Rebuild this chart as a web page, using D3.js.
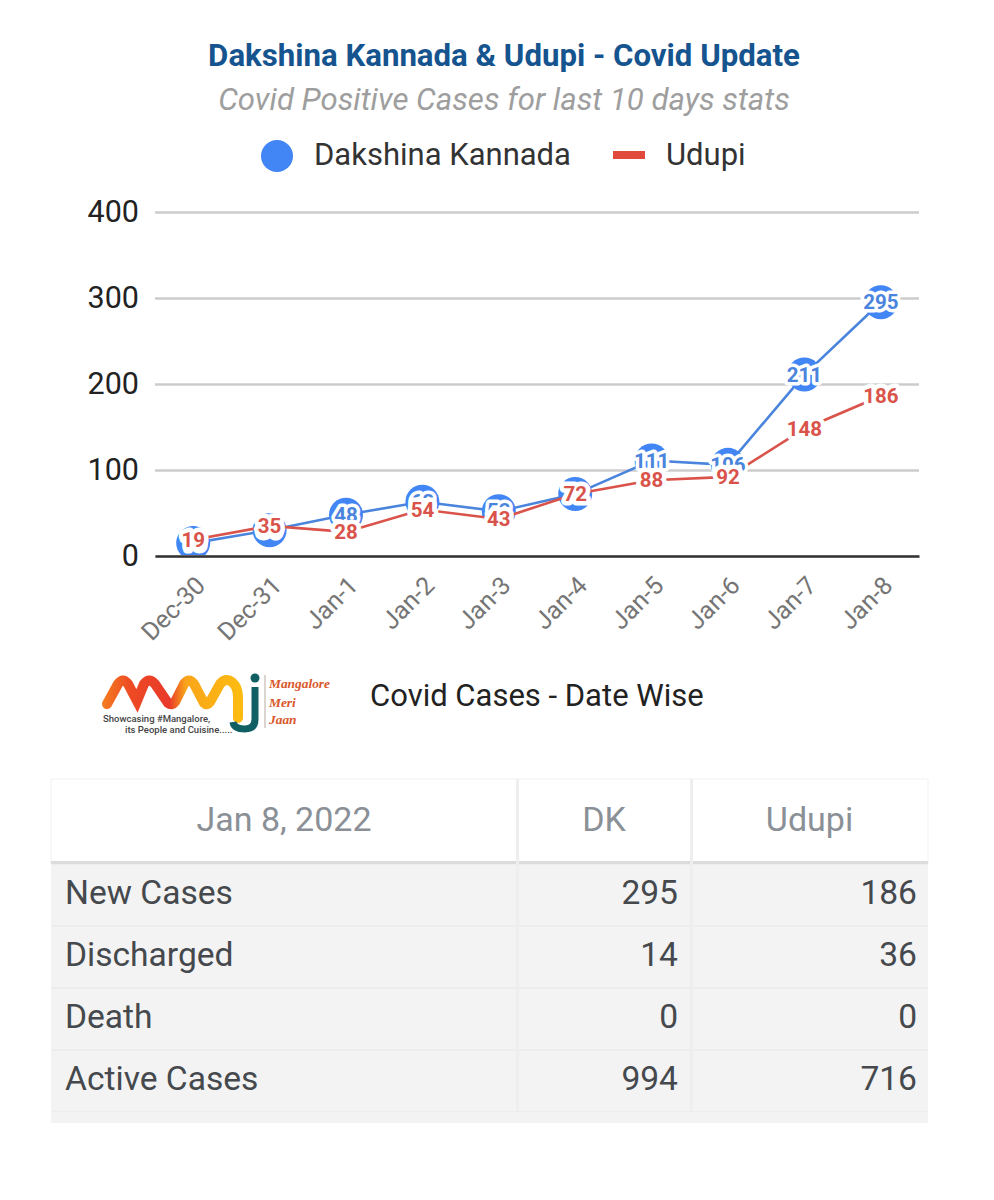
<!DOCTYPE html>
<html><head><meta charset="utf-8">
<script src="https://cdn.jsdelivr.net/npm/d3@7"></script>
<style>html,body{margin:0;padding:0;background:#fff}svg{display:block}text{font-family:Roboto,sans-serif}</style>
</head><body><div id="c"></div>
<script>
const dates=["Dec-30","Dec-31","Jan-1","Jan-2","Jan-3","Jan-4","Jan-5","Jan-6","Jan-7","Jan-8"];
const dk=[15,30,48,63,52,72,111,106,211,295];
const udupi=[19,35,28,54,43,72,88,92,148,186];
const yTicks=[0,100,200,300,400];
const tableHead=["Jan 8, 2022","DK","Udupi"];
const rowNames=["New Cases","Discharged","Death","Active Cases"];
const dkRow=[295,14,0,994];
const udupiRow=[186,36,0,716];
const BLUE="#4285f4",LBLUE="#4a84dc",RED="#e0493b",LRED="#d9534a";

const svg=d3.select("#c").append("svg").attr("width",994).attr("height",1200);
const x=d3.scalePoint().domain(dates).range([155,919]).padding(0.5);
const y=d3.scaleLinear().domain([0,400]).range([556,212]);

svg.append("text").attr("x",504).attr("y",66).attr("text-anchor","middle").attr("font-size",31.2).attr("font-weight",700).attr("fill","#15548e").text("Dakshina Kannada & Udupi - Covid Update");
svg.append("text").attr("x",504).attr("y",110).attr("text-anchor","middle").attr("font-size",31.2).attr("font-style","italic").attr("fill","#9e9e9e").text("Covid Positive Cases for last 10 days stats");

// legend
svg.append("circle").attr("cx",277).attr("cy",156).attr("r",16).attr("fill",BLUE);
svg.append("text").attr("x",314).attr("y",165).attr("font-size",31).attr("fill","#333").text("Dakshina Kannada");
svg.append("rect").attr("x",613).attr("y",151).attr("width",32).attr("height",8).attr("fill",RED);
svg.append("text").attr("x",666).attr("y",165).attr("font-size",31).attr("fill","#333").text("Udupi");

// axes
const gy=svg.append("g").attr("transform","translate(155,0)").call(d3.axisLeft(y).tickValues(yTicks).tickSize(-764).tickPadding(16));
gy.select(".domain").remove();
gy.selectAll("line").attr("stroke","#cccccc").attr("stroke-width",2.5);
gy.selectAll("text").attr("font-size",30.5).attr("fill","#222").attr("font-family","Roboto,sans-serif").attr("dy","0.3em");
const gx=svg.append("g").attr("transform","translate(0,556)").call(d3.axisBottom(x).tickSize(0).tickPadding(0));
gx.select(".domain").attr("stroke","#333").attr("stroke-width",2.5);
gx.selectAll("text").attr("font-size",25).attr("fill","#757575").attr("font-family","Roboto,sans-serif")
  .attr("text-anchor","end").attr("dy",0).attr("transform","translate(13,31) rotate(-45)");

// series
svg.append("defs").append("clipPath").attr("id","plot").append("rect").attr("x",155).attr("y",180).attr("width",764).attr("height",375);
const line=d3.line().x((d,i)=>x(dates[i])).y(d=>y(d));
svg.append("path").datum(dk).attr("d",line).attr("fill","none").attr("stroke",LBLUE).attr("stroke-width",2.6);
svg.append("g").attr("clip-path","url(#plot)").selectAll("circle").data(dk).join("circle").attr("cx",(d,i)=>x(dates[i])).attr("cy",d=>y(d)).attr("r",17).attr("fill",BLUE);
svg.append("path").datum(udupi).attr("d",line).attr("fill","none").attr("stroke",LRED).attr("stroke-width",2.6);
function labels(vals,color,halo){
  svg.append("g").selectAll("text").data(vals).join("text").attr("x",(d,i)=>x(dates[i])).attr("y",d=>y(d)+7)
   .attr("text-anchor","middle").attr("font-size",20.5).attr("font-weight",700).attr("fill",color)
   .attr("stroke","#fff").attr("stroke-width",halo).attr("paint-order","stroke").attr("stroke-linejoin","round").text(d=>d);
}
labels(dk,LBLUE,7);
labels(udupi,LRED,9);

// logo
const defs=svg.append("defs");
const grad=defs.append("linearGradient").attr("id","lg").attr("gradientUnits","userSpaceOnUse").attr("x1",104).attr("x2",240).attr("y1",0).attr("y2",0);
[["0","#f47a20"],["0.2","#ee4a24"],["0.48","#e8392a"],["0.6","#f9a51a"],["1","#fdbb11"]].forEach(s=>grad.append("stop").attr("offset",s[0]).attr("stop-color",s[1]));
const logo=svg.append("g");
logo.append("path").attr("d","M107 704 L118 684 Q123 677 128 684 L137 701 L144 684 Q149 677 155 684 L168 703 Q172 706 175 702 L184 684 Q189 677 194 684 L204 703 Q207 706 210 702 L220 684 Q226 677 232 682 Q238 687 238 697 L238 718")
 .attr("fill","none").attr("stroke","url(#lg)").attr("stroke-width",10).attr("stroke-linecap","round");
logo.append("path").attr("d","M233 722 Q234 729 245 729 Q255 729 255 719 L255 687").attr("fill","none").attr("stroke","#0f5f63").attr("stroke-width",7);
logo.append("circle").attr("cx",255).attr("cy",678).attr("r",4.5).attr("fill","#0f5f63");
logo.append("line").attr("x1",265).attr("x2",265).attr("y1",675).attr("y2",728).attr("stroke","#b9a9a0").attr("stroke-width",1);
[["Mangalore",688],["Meri",707],["Jaan",724]].forEach(t=>logo.append("text").attr("x",269).attr("y",t[1]).attr("font-size",13.4).attr("font-style","italic").attr("font-weight",700).attr("fill","#d9582b").style("font-family","Liberation Serif,serif").text(t[0]));
logo.append("text").attr("x",103).attr("y",722).attr("font-size",9.5).attr("font-weight",500).attr("fill","#444").text("Showcasing #Mangalore,");
logo.append("text").attr("x",125).attr("y",733).attr("font-size",9.5).attr("font-weight",500).attr("fill","#444").text("its People and Cuisine.....");
svg.append("text").attr("x",370).attr("y",706).attr("font-size",31).attr("fill","#222").text("Covid Cases - Date Wise");

// table
const colEdges=[51,517,691,928];
const rowTops=[865,927,989,1051];
const rowH=60;
svg.append("rect").attr("x",51).attr("y",779).attr("width",877).attr("height",84).attr("fill","#fff").attr("stroke","#f2f2f2");
svg.append("rect").attr("x",51).attr("y",863).attr("width",877).attr("height",260).attr("fill","#ededed");
svg.append("rect").attr("x",51).attr("y",861).attr("width",877).attr("height",3).attr("fill","#dcdcdc");
svg.selectAll(".row").data(rowNames).join("rect").attr("class","row").attr("x",51).attr("y",(d,i)=>rowTops[i]).attr("width",877).attr("height",rowH).attr("fill","#f3f3f3");
svg.append("rect").attr("x",51).attr("y",1112).attr("width",877).attr("height",11).attr("fill","#f3f3f3");
[517,691].forEach(v=>svg.append("rect").attr("x",v-1).attr("y",779).attr("width",3).attr("height",332).attr("fill","#eeeeee"));
tableHead.forEach((t,i)=>svg.append("text").attr("x",(colEdges[i]+colEdges[i+1])/2).attr("y",831).attr("text-anchor","middle").attr("font-size",34).attr("fill","#8a9096").text(t));
rowNames.forEach((r,i)=>{
  const b=rowTops[i]+38.5;
  svg.append("text").attr("x",65).attr("y",b).attr("font-size",33.6).attr("fill","#45494d").text(r);
  svg.append("text").attr("x",678).attr("y",b).attr("text-anchor","end").attr("font-size",33.6).attr("fill","#45494d").text(dkRow[i]);
  svg.append("text").attr("x",917).attr("y",b).attr("text-anchor","end").attr("font-size",33.6).attr("fill","#45494d").text(udupiRow[i]);
});
</script></body></html>
